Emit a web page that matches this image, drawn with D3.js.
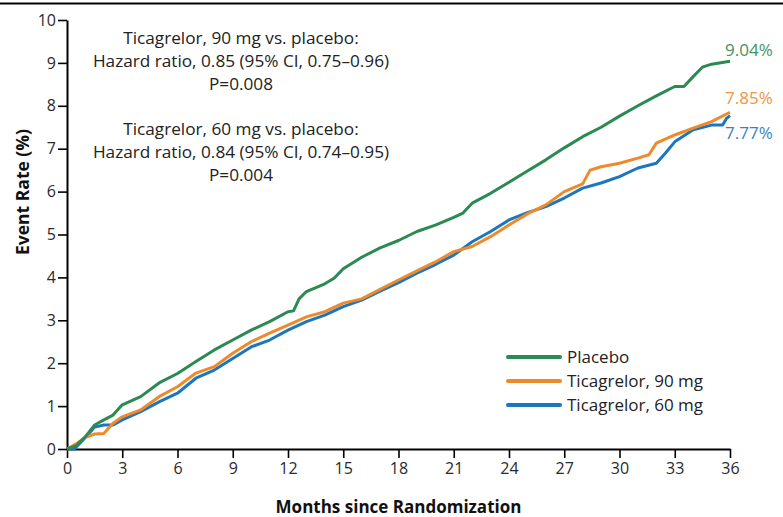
<!DOCTYPE html>
<html>
<head>
<meta charset="utf-8">
<script src="https://cdn.jsdelivr.net/npm/d3@7"></script>
<style>
  body { margin: 0; background: #fff; }
  svg { font-family: "Open Sans", "Noto Sans", sans-serif; }
</style>
</head>
<body>
<svg id="chart"></svg>
<script>
const width = 783;
const height = 517;

// [month, event rate %]
const placebo = [[0,0],[0.5,0.08],[1,0.29],[1.5,0.56],[2,0.68],[2.5,0.79],[3,1.03],[4,1.22],[5,1.54],[6,1.76],[7,2.04],[8,2.31],[9,2.54],[10,2.77],[11,2.97],[12,3.2],[12.3,3.22],[12.6,3.5],[13,3.67],[14,3.85],[14.5,3.98],[15,4.2],[16,4.47],[17,4.69],[18,4.86],[19,5.07],[20,5.22],[21,5.4],[21.5,5.5],[22,5.73],[23,5.96],[24,6.22],[25,6.48],[26,6.74],[27,7.02],[28,7.28],[29,7.5],[30,7.76],[31,8.0],[32,8.23],[33,8.45],[33.5,8.45],[34,8.68],[34.5,8.9],[35,8.97],[36,9.04]];
const tica90 = [[0,0],[0.5,0.12],[1,0.27],[1.5,0.35],[2,0.36],[2.5,0.6],[3,0.75],[4,0.91],[5,1.22],[6,1.45],[7,1.77],[8,1.92],[9,2.23],[10,2.5],[11,2.7],[12,2.89],[13,3.08],[14,3.2],[15,3.4],[16,3.5],[17,3.72],[18,3.94],[19,4.15],[20,4.36],[21,4.6],[22,4.72],[23,4.95],[24,5.22],[25,5.48],[26,5.69],[27,6.0],[28,6.18],[28.4,6.5],[29,6.58],[30,6.66],[31,6.78],[31.6,6.86],[32,7.13],[33,7.32],[34,7.48],[35,7.63],[36,7.85]];
const tica60 = [[0,0],[0.4,0],[1,0.27],[1.5,0.51],[2,0.56],[2.5,0.56],[3,0.68],[4,0.87],[5,1.1],[6,1.3],[7,1.65],[8,1.84],[9,2.11],[10,2.38],[11,2.54],[12,2.77],[13,2.97],[14,3.12],[15,3.32],[16,3.47],[17,3.68],[18,3.88],[19,4.1],[20,4.3],[21,4.52],[22,4.83],[23,5.07],[24,5.34],[25,5.51],[26,5.65],[27,5.85],[28,6.08],[29,6.2],[30,6.35],[31,6.55],[32,6.66],[32.5,6.9],[33,7.16],[34,7.44],[35,7.55],[35.6,7.55],[35.8,7.7],[36,7.77]];

const seriesNames = ["Placebo", "Ticagrelor, 90 mg", "Ticagrelor, 60 mg"];
const seriesColors = ["#2b8a52", "#ef8a2c", "#1c76bd"];
const endLabels = ["9.04%", "7.85%", "7.77%"];
const xTicks = d3.range(0, 37, 3);
const yTicks = d3.range(0, 11, 1);

const annotation = [
  "Ticagrelor, 90 mg vs. placebo:",
  "Hazard ratio, 0.85 (95% CI, 0.75\u20130.96)",
  "P=0.008",
  "",
  "Ticagrelor, 60 mg vs. placebo:",
  "Hazard ratio, 0.84 (95% CI, 0.74\u20130.95)",
  "P=0.004"
];

const margin = {left: 67, right: 53, top: 20, bottom: 68};

const svg = d3.select("#chart")
  .attr("width", width)
  .attr("height", height);

// top rule
svg.append("line")
  .attr("x1", 0).attr("x2", width)
  .attr("y1", 3.5).attr("y2", 3.5)
  .attr("stroke", "#000")
  .attr("stroke-width", 2);

const x = d3.scaleLinear().domain([0, 36]).range([margin.left, width - margin.right]);
const y = d3.scaleLinear().domain([0, 10]).range([height - margin.bottom, margin.top]);

const xAxis = svg.append("g")
  .attr("transform", `translate(0,${y(0)})`)
  .call(d3.axisBottom(x).tickValues(xTicks).tickSize(9).tickSizeOuter(0).tickPadding(5));

const yAxis = svg.append("g")
  .attr("transform", `translate(${x(0)},0)`)
  .call(d3.axisLeft(y).tickValues(yTicks).tickSize(9).tickSizeOuter(0).tickPadding(2));

[xAxis, yAxis].forEach(g => {
  g.select(".domain").attr("stroke", "#000").attr("stroke-width", 2);
  g.selectAll(".tick line").attr("stroke", "#000").attr("stroke-width", 1.6);
  g.selectAll(".tick text")
    .attr("fill", "#2a2a2a")
    .style("font-family", "'Open Sans', sans-serif")
    .style("font-size", "16px");
});

// axis titles
svg.append("text")
  .attr("x", x(18))
  .attr("y", 513)
  .attr("text-anchor", "middle")
  .style("font-weight", "bold")
  .style("font-size", "17px")
  .attr("fill", "#111")
  .text("Months since Randomization");

svg.append("text")
  .attr("transform", "translate(29,192) rotate(-90)")
  .attr("text-anchor", "middle")
  .style("font-weight", "bold")
  .style("font-size", "17.5px")
  .attr("fill", "#111")
  .text("Event Rate (%)");

// curves
const line = d3.line()
  .x(d => x(d[0]))
  .y(d => y(d[1]));

const allSeries = [placebo, tica90, tica60];
// draw 60 mg first, then 90 mg, then placebo on top
[2, 1, 0].forEach(i => {
  svg.append("path")
    .datum(allSeries[i])
    .attr("fill", "none")
    .attr("stroke", seriesColors[i])
    .attr("stroke-width", 3)
    .attr("stroke-linejoin", "round")
    .attr("d", line);
});

// end-of-curve labels
const endY = [50, 98, 133];
endLabels.forEach((t, i) => {
  svg.append("text")
    .attr("x", 725)
    .attr("y", endY[i])
    .attr("dy", "0.35em")
    .style("font-size", "17px")
    .attr("fill", seriesColors[i])
    .attr("opacity", 0.9)
    .text(t);
});

// hazard ratio annotation
svg.append("g")
  .selectAll("text")
  .data(annotation)
  .join("text")
  .attr("x", 241)
  .attr("y", (d, i) => 38 + i * 22.8)
  .attr("dy", "0.35em")
  .attr("text-anchor", "middle")
  .style("font-size", "17.2px")
  .attr("fill", "#222")
  .text(d => d);

// legend
const legend = svg.append("g").attr("transform", "translate(508,357)");
seriesNames.forEach((name, i) => {
  legend.append("line")
    .attr("x1", 0).attr("x2", 52)
    .attr("y1", i * 24).attr("y2", i * 24)
    .attr("stroke", seriesColors[i])
    .attr("stroke-width", 4)
    .attr("stroke-linecap", "round");
  legend.append("text")
    .attr("x", 59)
    .attr("y", i * 24)
    .attr("dy", "0.35em")
    .style("font-size", "17px")
    .attr("fill", "#222")
    .text(name);
});
</script>
</body>
</html>
